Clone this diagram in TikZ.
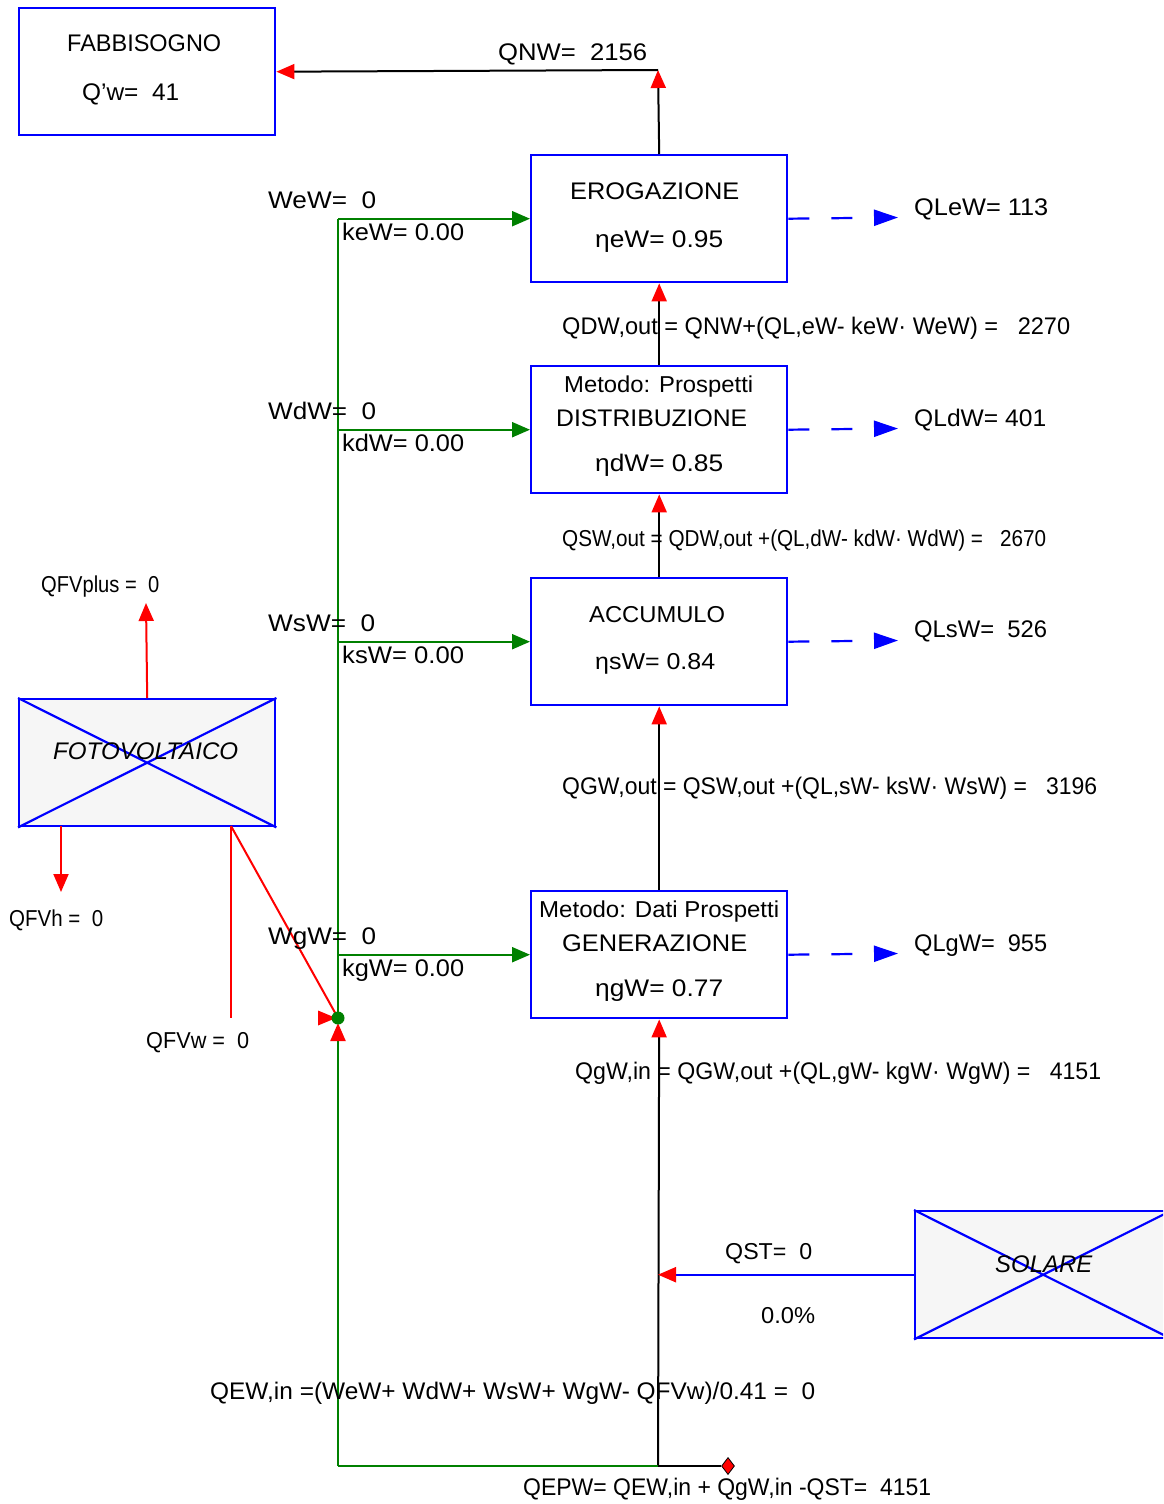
\documentclass[tikz,border=0pt]{standalone}
\usepackage{fontspec}
\setmainfont{Liberation Sans}
\usepackage{graphicx}
\usetikzlibrary{arrows.meta,shapes.geometric}
\definecolor{bblue}{RGB}{0,0,255}
\definecolor{ggreen}{RGB}{0,128,0}
\definecolor{rred}{RGB}{255,0,0}
\definecolor{fvgray}{RGB}{246,246,246}
\newcommand\fitw[2]{\resizebox{#1pt}{\height}{#2}}
\tikzset{
  box/.style={draw=bblue, line width=2.4pt, minimum width=256pt, minimum height=127pt, inner sep=0pt, anchor=north west},
  grayx/.style={box, fill=fvgray},
  lbl/.style={inner sep=0pt, anchor=base west, font=\fontsize{24}{28}\selectfont},
  lbls/.style={lbl, font=\fontsize{23}{27}\selectfont},
  blk/.style={draw=black, line width=2pt},
  grn/.style={draw=ggreen, line width=2.2pt},
  rdl/.style={draw=rred, line width=2pt},
  bll/.style={draw=bblue, line width=2.2pt},
  rtip/.style={-{Triangle[color=rred, fill=rred, length=18pt, width=15pt]}},
  gtip/.style={-{Triangle[color=ggreen, fill=ggreen, length=18pt, width=15pt]}},
  btip/.style={-{Triangle[color=bblue, fill=bblue, length=24pt, width=16pt]}},
  dsh/.style={dash pattern=on 21pt off 22pt}
}
\begin{document}
\begin{tikzpicture}[x=1pt,y=-1pt]
\clip (0,0) rectangle (1163,1504);
\fill[white] (0,0) rectangle (1163,1504);
% boxes
\node[box] (fab) at (18,7) {};
\node[box] (ero) at (530,154) {};
\node[box] (dis) at (530,365) {};
\node[box] (acc) at (530,577) {};
\node[box] (gen) at (530,890) {};
\node[grayx] (fv) at (18,698) {};
\node[grayx] (sol) at (914,1210) {};
\draw[bll] (fv.north west) -- (fv.south east) (fv.north east) -- (fv.south west);
\draw[bll] (sol.north west) -- (sol.south east) (sol.north east) -- (sol.south west);
% coordinates
\coordinate (topc) at (658,70);
\coordinate (bc) at (658,1466);
\coordinate (bl) at (338,1466);
\coordinate (junc) at (338,1018);
\coordinate (qle) at (898,217.5);
\coordinate (qld) at (898,428.5);
\coordinate (qls) at (898,640.5);
\coordinate (qlg) at (898,953.5);
\coordinate (fvup) at (146,603);
\coordinate (fvh0) at (61,826);
\coordinate (fvh1) at (61,892);
\coordinate (fvw0) at (231,826);
\coordinate (fvw1) at (231,1018);
\node[diamond, fill=rred, draw=black, line width=0.8pt, minimum width=13pt, minimum height=17pt, inner sep=0pt] (dia) at (728,1466) {};
% black main chain
\draw[blk, rtip] (ero.north) -- (topc);
\draw[blk, rtip] (topc) -- (fab.east);
\draw[blk, rtip] (dis.north) -- (ero.south);
\draw[blk, rtip] (acc.north) -- (dis.south);
\draw[blk, rtip] (gen.north) -- (acc.south);
\draw[blk, rtip] (bc) -- (gen.south);
\draw[blk] (bc) -- (dia.west);
% green
\draw[grn] (bl) -- (bc);
\draw[grn, rtip, shorten >=5pt] (bl) -- (junc);
\draw[grn] (junc) -- (junc |- ero.west);
\draw[grn, gtip] (junc |- ero.west) -- (ero.west);
\draw[grn, gtip] (junc |- dis.west) -- (dis.west);
\draw[grn, gtip] (junc |- acc.west) -- (acc.west);
\draw[grn, gtip] (junc |- gen.west) -- (gen.west);
% blue dashed losses
\draw[bll, dsh, btip] (ero.east) -- (qle);
\draw[bll, dsh, btip] (dis.east) -- (qld);
\draw[bll, dsh, btip] (acc.east) -- (qls);
\draw[bll, dsh, btip] (gen.east) -- (qlg);
% solar
\draw[bll, rtip] (sol.west) -- (bc |- sol.west);
% FV
\draw[rdl, rtip] (fv.north) -- (fvup);
\draw[rdl, rtip] (fvh0) -- (fvh1);
\draw[rdl] (fvw0) -- (fvw1);
\draw[rdl] (fvw0) -- (junc);
\fill[rred] ([xshift=-2pt]junc) -- ++(-18,-7.5) -- ++(0,15) -- cycle;
\node[circle, fill=ggreen, minimum size=13pt, inner sep=0pt] (dot) at (junc) {};
% texts
\node[lbl] (tfab) at (67,52) {\fitw{154}{FABBISOGNO}};
\node[lbl] (tqw) at (82,100) {\fitw{97}{Q'w=\ \ 41}};
\node[lbl] (tqnw) at (498,61) {\fitw{149}{QNW=\ \ 2156}};
\node[lbl] (tero) at (570,199) {\fitw{169}{EROGAZIONE}};
\node[lbl] (tetae) at (595,247) {\fitw{128}{ηeW= 0.95}};
\node[lbl] (tqle) at (914,215) {\fitw{134}{QLeW=\ 113}};
\node[lbl] (twe) at (268,208) {\fitw{108}{WeW=\ \ 0}};
\node[lbl] (tke) at (342,240) {\fitw{122}{keW= 0.00}};
\node[lbl] (tfd) at (562,334) {\fitw{508}{QDW,out = QNW+(QL,eW- keW· WeW) =\ \ \ 2270}};
\node[lbls] (tmd) at (564,392) {\fitw{189}{Metodo: Prospetti}};
\node[lbl] (tdis) at (556,426) {\fitw{191}{DISTRIBUZIONE}};
\node[lbl] (tetad) at (595,471) {\fitw{128}{ηdW= 0.85}};
\node[lbl] (tqld) at (914,426) {\fitw{132}{QLdW=\ 401}};
\node[lbl] (twd) at (268,419) {\fitw{108}{WdW=\ \ 0}};
\node[lbl] (tkd) at (342,451) {\fitw{122}{kdW= 0.00}};
\node[lbls] (tfs) at (562,546) {\fitw{484}{QSW,out = QDW,out +(QL,dW- kdW· WdW) =\ \ \ 2670}};
\node[lbls] (tacc) at (589,622) {\fitw{136}{ACCUMULO}};
\node[lbls] (tetas) at (595,669) {\fitw{120}{ηsW= 0.84}};
\node[lbl] (tqls) at (914,637) {\fitw{133}{QLsW=\ \ 526}};
\node[lbl] (tws) at (268,631) {\fitw{107}{WsW=\ \ 0}};
\node[lbl] (tks) at (342,663) {\fitw{122}{ksW= 0.00}};
\node[lbl] (tfg) at (562,794) {\fitw{535}{QGW,out = QSW,out +(QL,sW- ksW· WsW) =\ \ \ 3196}};
\node[lbls] (tmg) at (539,917) {\fitw{240}{Metodo: Dati Prospetti}};
\node[lbl] (tgen) at (562,951) {\fitw{185}{GENERAZIONE}};
\node[lbl] (tetag) at (595,996) {\fitw{128}{ηgW= 0.77}};
\node[lbl] (tqlg) at (914,951) {\fitw{133}{QLgW=\ \ 955}};
\node[lbl] (twg) at (268,944) {\fitw{108}{WgW=\ \ 0}};
\node[lbl] (tkg) at (342,976) {\fitw{122}{kgW= 0.00}};
\node[lbl] (tfin) at (575,1079) {\fitw{526}{QgW,in = QGW,out +(QL,gW- kgW· WgW) =\ \ \ 4151}};
\node[lbl] (tfv) at (53,759) {\fitw{185}{\itshape FOTOVOLTAICO}};
\node[lbls] (tfvp) at (41,592) {\fitw{118}{QFVplus =\ \ 0}};
\node[lbls] (tfvh) at (9,926) {\fitw{94}{QFVh =\ \ 0}};
\node[lbls] (tfvw) at (146,1048) {\fitw{103}{QFVw =\ \ 0}};
\node[lbls] (tqst) at (725,1259) {\fitw{87}{QST=\ \ 0}};
\node[lbls] (tpct) at (761,1323) {\fitw{54}{0.0\%}};
\node[lbl] (tsol) at (995,1272) {\fitw{97}{\itshape SOLARE}};
\node[lbl] (tqew) at (210,1399) {\fitw{605}{QEW,in =(WeW+ WdW+ WsW+ WgW- QFVw)/0.41 =\ \ 0}};
\node[lbl] (tqep) at (523,1495) {\fitw{408}{QEPW= QEW,in + QgW,in -QST=\ \ 4151}};
\end{tikzpicture}
\end{document}
